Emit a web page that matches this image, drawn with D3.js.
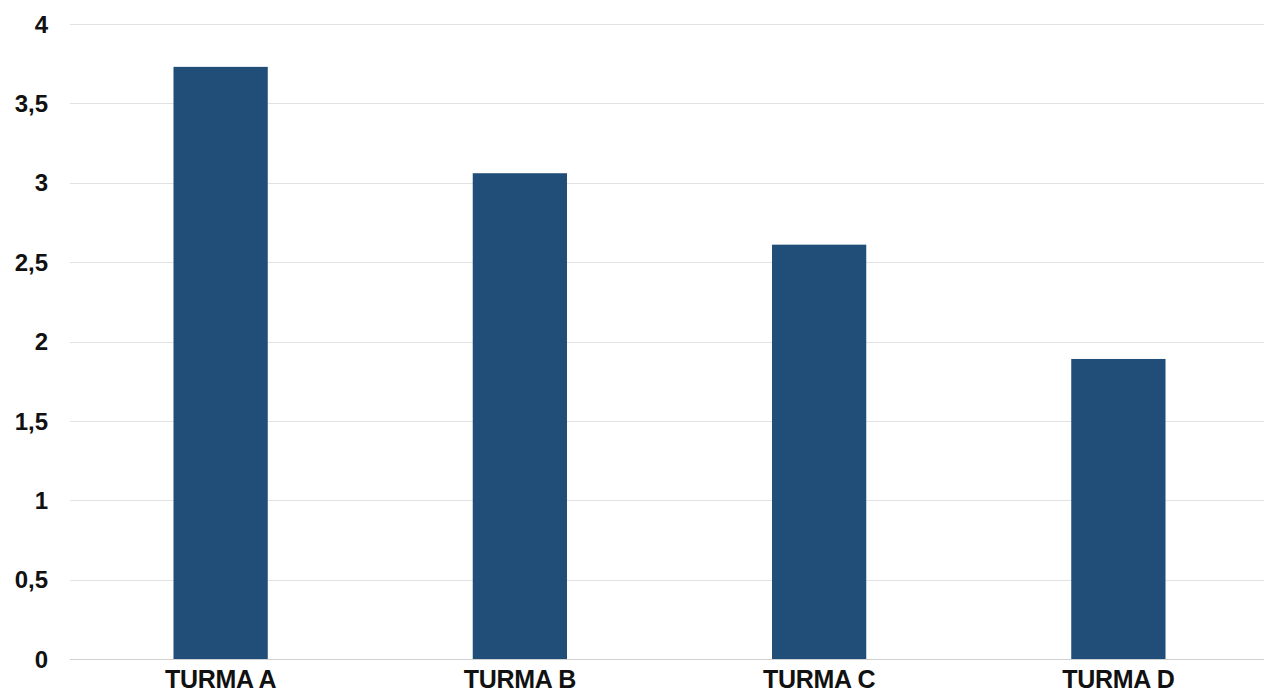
<!DOCTYPE html>
<html>
<head>
<meta charset="utf-8">
<script src="https://cdn.jsdelivr.net/npm/d3@7"></script>
<style>
  html, body { margin: 0; padding: 0; background: #fff; }
  svg { display: block; }
  .ylab { font-family: "Liberation Sans", Arial, sans-serif; font-weight: bold; font-size: 24px; fill: #111; }
  .xlab { font-family: "Liberation Sans", Arial, sans-serif; font-weight: bold; font-size: 25px; fill: #111; letter-spacing: -0.3px; }
</style>
</head>
<body>
<svg id="chart" width="1264" height="693"></svg>
<script>
// Average per class
const categories = ["TURMA A", "TURMA B", "TURMA C", "TURMA D"];
const values = [3.73, 3.06, 2.61, 1.89];
const yTicks = [0, 0.5, 1, 1.5, 2, 2.5, 3, 3.5, 4];
const yTickLabels = ["0", "0,5", "1", "1,5", "2", "2,5", "3", "3,5", "4"];

const svg = d3.select("#chart");

const x = d3.scaleBand()
  .domain(categories)
  .range([71, 1268])
  .paddingInner(0.685)
  .paddingOuter(0.3425);

const y = d3.scaleLinear()
  .domain([0, 4])
  .range([659, 24]);

// Horizontal gridlines
svg.append("g")
  .selectAll("line")
  .data(yTicks)
  .join("line")
  .attr("x1", 70)
  .attr("x2", 1264)
  .attr("y1", d => Math.round(y(d)) + 0.5)
  .attr("y2", d => Math.round(y(d)) + 0.5)
  .attr("stroke", d => d === 0 ? "#d0d0d0" : "#e2e2e2")
  .attr("stroke-width", 1);

// Y-axis labels
svg.append("g")
  .selectAll("text")
  .data(yTicks)
  .join("text")
  .attr("class", "ylab")
  .attr("x", 48)
  .attr("y", d => y(d))
  .attr("dy", "0.36em")
  .attr("text-anchor", "end")
  .text((d, i) => yTickLabels[i]);

// Bars
svg.append("g")
  .selectAll("rect")
  .data(values)
  .join("rect")
  .attr("x", (d, i) => x(categories[i]))
  .attr("width", x.bandwidth())
  .attr("y", d => y(d))
  .attr("height", d => y(0) - y(d))
  .attr("fill", "#214e78");

// Category labels
svg.append("g")
  .selectAll("text")
  .data(categories)
  .join("text")
  .attr("class", "xlab")
  .attr("x", d => x(d) + x.bandwidth() / 2)
  .attr("y", 688)
  .attr("text-anchor", "middle")
  .text(d => d);
</script>
</body>
</html>
